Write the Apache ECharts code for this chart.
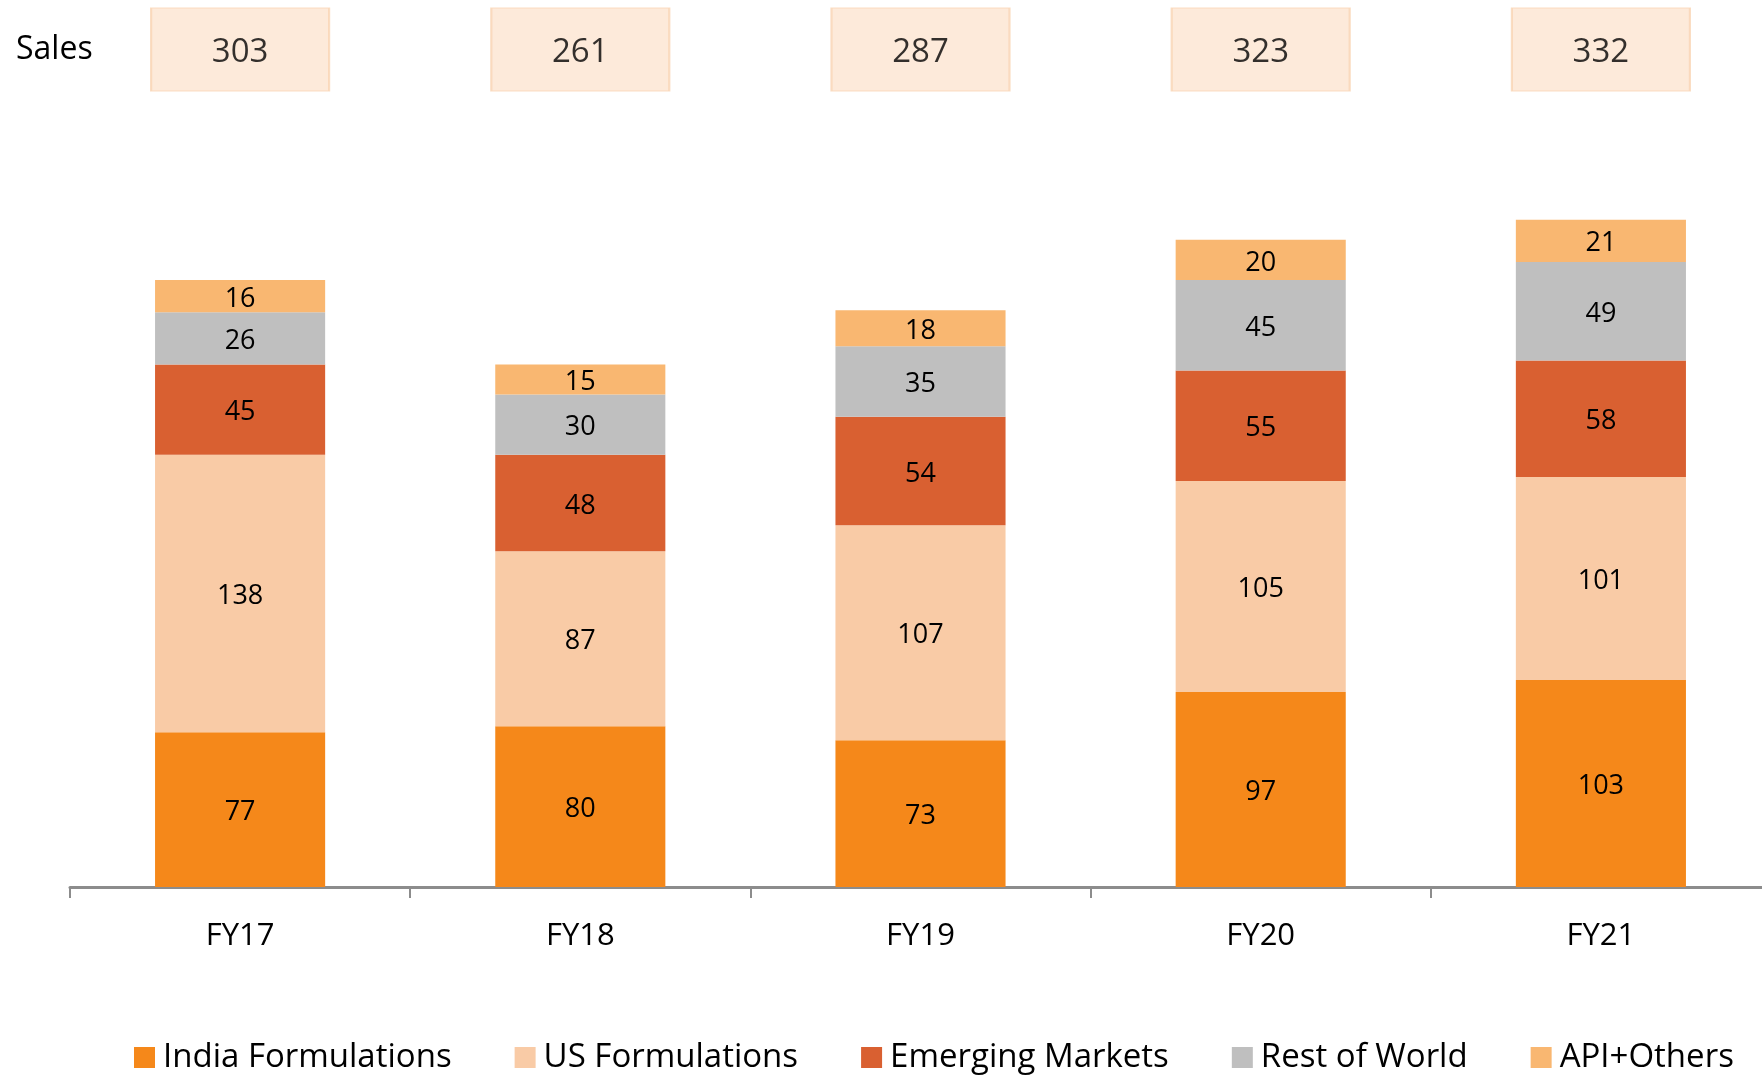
<!DOCTYPE html>
<html>
<head>
<meta charset="utf-8">
<script src="https://cdn.jsdelivr.net/npm/echarts@6/dist/echarts.min.js"></script>
<style>
  html, body { margin: 0; padding: 0; background: #ffffff; }
  #chart { width: 1762px; height: 1078px; }
</style>
</head>
<body>
<div id="chart"></div>
<script>
// Fiscal years on the category axis
const years = ['FY17', 'FY18', 'FY19', 'FY20', 'FY21'];

// Total sales shown in the boxes above each bar
const salesTotals = [303, 261, 287, 323, 332];

// Segment breakdown (stacked, bottom to top)
const indiaFormulations = [77, 80, 73, 97, 103];
const usFormulations = [138, 87, 107, 105, 101];
const emergingMarkets = [45, 48, 54, 55, 58];
const restOfWorld = [26, 30, 35, 45, 49];
const apiOthers = [16, 15, 18, 20, 21];

const segmentNames = ['India Formulations', 'US Formulations', 'Emerging Markets', 'Rest of World', 'API+Others'];
const segmentValues = [indiaFormulations, usFormulations, emergingMarkets, restOfWorld, apiOthers];
const segmentColors = ['#F5881A', '#F9CBA6', '#D96031', '#BFBFBF', '#F9B771'];

const FONT = '"Open Sans", "Noto Sans", sans-serif';

const chart = echarts.init(document.getElementById('chart'), null, { renderer: 'canvas' });

const barSeries = segmentNames.map((name, i) => ({
  name: name,
  type: 'bar',
  stack: 'sales',
  xAxisIndex: 0,
  yAxisIndex: 0,
  barWidth: '50%',
  itemStyle: { color: segmentColors[i] },
  label: {
    show: true,
    position: 'inside',
    offset: [0, 3],
    color: '#000000',
    fontFamily: FONT,
    fontSize: 27
  },
  emphasis: { disabled: true },
  data: segmentValues[i]
}));

// Sales boxes: one row, positioned on the shared year categories
const salesSeries = {
  name: 'Sales',
  type: 'scatter',
  xAxisIndex: 1,
  yAxisIndex: 1,
  symbol: 'rect',
  symbolSize: [178, 83],
  itemStyle: { color: '#FDE5D1', borderColor: '#F9D4B4', borderWidth: 1.5 },
  label: {
    show: true,
    position: 'inside',
    offset: [0, 3],
    color: '#000000',
    fontFamily: FONT,
    fontSize: 33,
    formatter: p => String(p.value[2])
  },
  emphasis: { disabled: true },
  data: salesTotals.map((v, i) => [i, 0, v])
};

const option = {
  backgroundColor: '#ffffff',
  animation: false,
  textStyle: { fontFamily: FONT },
  grid: [
    { left: 70, width: 1701, top: 83, height: 804, outerBoundsMode: 'none', containLabel: false },
    { left: 70, width: 1701, top: 8, height: 83, outerBoundsMode: 'none', containLabel: false }
  ],
  xAxis: [
    {
      type: 'category',
      gridIndex: 0,
      data: years,
      boundaryGap: true,
      axisLine: { show: true, lineStyle: { color: '#8C8C8C', width: 3 } },
      axisTick: { show: true, length: 11, lineStyle: { color: '#8C8C8C', width: 2 } },
      axisLabel: { color: '#000000', fontFamily: FONT, fontSize: 31, margin: 34 }
    },
    {
      type: 'category',
      gridIndex: 1,
      data: years,
      boundaryGap: true,
      axisLine: { show: false },
      axisTick: { show: false },
      axisLabel: { show: false }
    }
  ],
  yAxis: [
    {
      type: 'value',
      gridIndex: 0,
      min: 0,
      max: 400,
      show: false,
      splitLine: { show: false }
    },
    {
      type: 'category',
      gridIndex: 1,
      data: ['Sales'],
      axisLine: { show: false },
      axisTick: { show: false },
      splitLine: { show: false },
      axisLabel: {
        show: true,
        align: 'left',
        margin: 54,
        padding: [0, 0, 6, 0],
        color: '#000000',
        fontFamily: FONT,
        fontSize: 32
      }
    }
  ],
  legend: {
    data: segmentNames,
    left: 129,
    top: 1036,
    icon: 'rect',
    itemWidth: 21,
    itemHeight: 21,
    itemGap: 63,
    textStyle: { color: '#000000', fontFamily: FONT, fontSize: 33, padding: [0, 0, 0, 3] },
    selectedMode: false
  },
  series: [...barSeries, salesSeries]
};

chart.setOption(option);
</script>
</body>
</html>
